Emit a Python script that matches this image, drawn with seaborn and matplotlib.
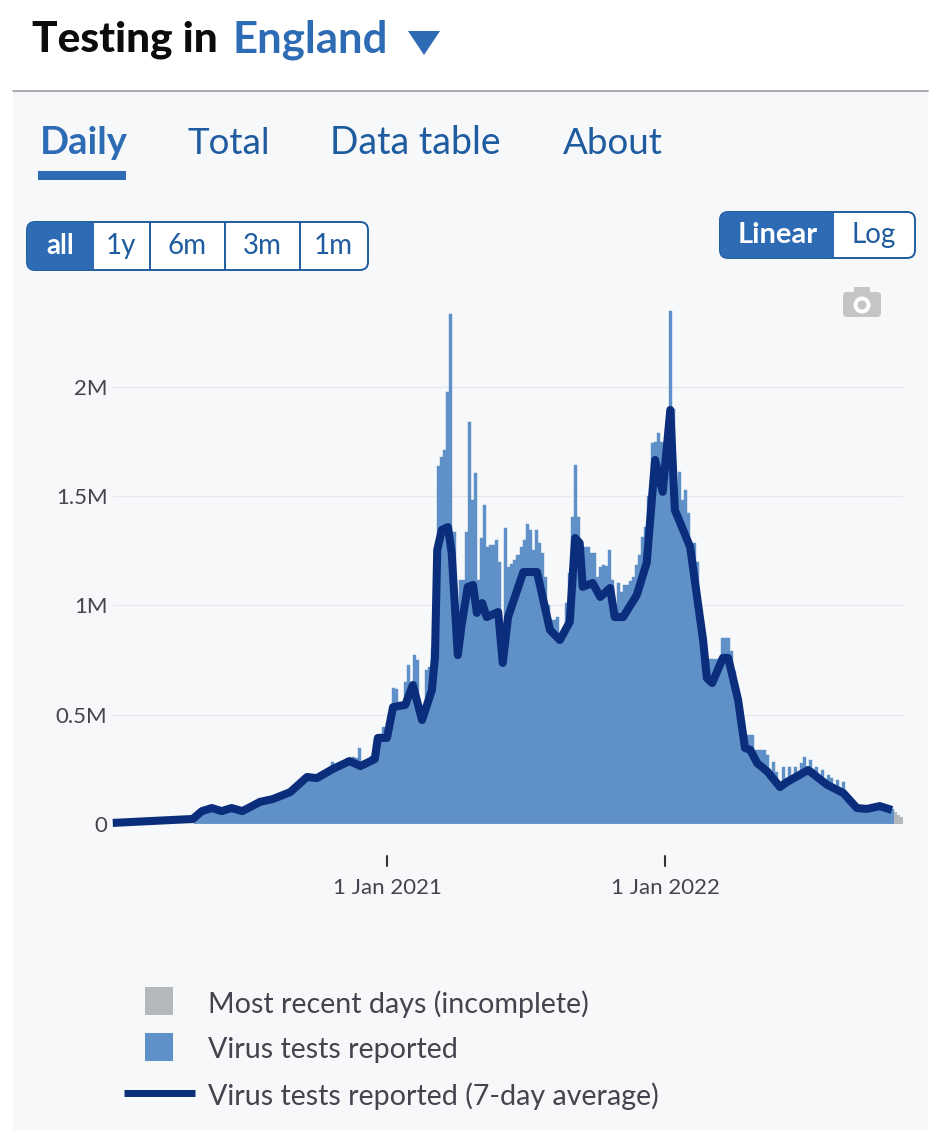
"""Testing in England dashboard card, daily virus tests chart."""
import matplotlib
matplotlib.use("Agg")
import matplotlib.pyplot as plt
import numpy as np
import seaborn as sns
from matplotlib.patches import Circle, FancyBboxPatch, Polygon, Rectangle

W, H = 942, 1130

# daily bars, thousands of tests, one bar every 4 days from day -252 (days since 1 Jan 2021)
BAR_START = -252
BAR_STEP = 4
reported_values = [
    30, 45, 58, 60, 62, 70, 70, 62, 62, 60,
    65, 70, 72, 68, 63, 60, 60, 68, 78, 85,
    92, 98, 102, 107, 112, 115, 118, 126, 132, 140,
    148, 150, 150, 165, 180, 195, 205, 213, 212, 212,
    212, 220, 228, 235, 245, 284, 262, 265, 280, 270,
    300, 290, 305, 300, 348, 270, 275, 290, 310, 300,
    400, 410, 444, 420, 480, 622, 620, 560, 540, 650,
    728, 640, 773, 750, 520, 480, 705, 720, 800, 1000,
    1640, 1680, 1712, 1977, 2334, 1336, 1000, 1117, 1117, 1336,
    1840, 1483, 1606, 1117, 1309, 1460, 1268, 1275, 1277, 1300,
    1200, 740, 1355, 1176, 1190, 1208, 1230, 1268, 1300, 1373,
    1346, 1254, 1346, 1286, 1240, 1130, 1000, 934, 934, 947,
    874, 880, 1011, 1150, 1405, 1643, 1405, 1277, 1268, 1268,
    1240, 1240, 1130, 1176, 1185, 1180, 1254, 1117, 993, 1103,
    1062, 1094, 1094, 1110, 1130, 1185, 1230, 1314, 1359, 1500,
    1744, 1750, 1790, 1748, 1680, 1700, 2348, 1900, 1500, 1611,
    1483, 1529, 1423, 1286, 1286, 1200, 934, 800, 700, 755,
    755, 755, 755, 851, 851, 851, 790, 700, 620, 540,
    440, 407, 407, 407, 339, 339, 339, 339, 316, 240,
    284, 238, 175, 261, 200, 261, 215, 261, 225, 279,
    307, 260, 293, 250, 261, 215, 247, 200, 224, 210,
    165, 201, 155, 192, 135, 115, 95, 78, 70, 66,
    66, 70, 73, 78, 80, 82, 80, 78, 74, 68,
]
recent_values = [55, 41, 32]

# 7-day average
avg_days = [
    -360, -255, -243, -230, -217, -204, -190, -177, -167, -150, -127, -105, -92, -71, -49,
    -35, -16, -12, 0, 8, 24, 34, 46, 59, 63, 66, 72, 80, 85, 93, 98, 106, 113, 118, 125,
    131, 146, 152, 159, 179, 197, 214, 227, 240, 247, 253, 257, 270, 280, 293, 299, 310,
    328, 341, 352, 362, 372, 378, 398, 415, 420, 427, 441, 448, 461, 470, 477, 486, 500,
    516, 525, 553, 578, 599, 617, 630, 647, 663,
]
avg_values = [
    5, 23, 59, 73, 59, 73, 59, 82, 101, 114, 146, 215, 210, 252, 288,
    265, 297, 394, 394, 535, 545, 636, 476, 613, 764, 1254, 1346, 1359, 1240, 773, 911, 1085, 1094, 966, 1011,
    947, 970, 737, 947, 1153, 1153, 888, 842, 925, 1309, 1286, 1085, 1103, 1039, 1080, 947, 947,
    1048, 1195, 1666, 1520, 1895, 1437, 1268, 842, 668, 645, 760, 760, 568, 348, 339, 279, 238,
    169, 192, 247, 179, 142, 73, 69, 82, 64,
]

ytick_values = [0, 500, 1000, 1500, 2000]
ytick_labels = ["0", "0.5M", "1M", "1.5M", "2M"]
xtick_days = [0, 365]
xtick_labels = ["1 Jan 2021", "1 Jan 2022"]
tab_names = ["Daily", "Total", "Data table", "About"]
range_names = ["all", "1y", "6m", "3m", "1m"]
legend_names = ["Most recent days (incomplete)", "Virus tests reported", "Virus tests reported (7-day average)"]

BAR_BLUE = "#6090c8"
LINE_NAVY = "#0b2e7c"
UI_BLUE = "#2e6bb5"
TAB_BLUE = "#1f5c9f"
GREY_TEXT = "#44444f"

sns.set_theme(style="white")
plt.rcParams["font.family"] = ["Lato", "DejaVu Sans"]

fig = plt.figure(figsize=(W / 100, H / 100), dpi=100, facecolor="white")

# page furniture lives on a pixel-coordinate layer behind the chart
ui = fig.add_axes([0, 0, 1, 1], zorder=0)
ui.set_xlim(0, W)
ui.set_ylim(H, 0)
ui.axis("off")


def rounded(x0, y0, x1, y1, face, edge="none", lw=0, r=8):
    ui.add_patch(FancyBboxPatch((x0 + r, y0 + r), x1 - x0 - 2 * r, y1 - y0 - 2 * r,
                                boxstyle=f"round,pad={r},rounding_size={r}",
                                facecolor=face, edgecolor=edge, linewidth=lw))


# panel
ui.add_patch(Rectangle((13, 91), 915, H - 91, facecolor="#f7f8fa", edgecolor="none"))
ui.plot([13, 928], [91, 91], color="#9a9ea3", lw=1.2)

# heading
ui.text(32, 40, "Testing in", fontsize=30.5, fontweight="black", color="#0b0c0c", va="center")
ui.text(232, 40, "England", fontsize=31.5, fontweight="bold", color=UI_BLUE, va="center")
ui.add_patch(Polygon([(408, 31), (440, 31), (424, 55)], facecolor=UI_BLUE, edgecolor="none"))

# tabs
for name, x, size in zip(tab_names, [40, 187, 330, 563], [27.5, 26.5, 27, 26.5]):
    bold = name == "Daily"
    ui.text(x, 143, name, fontsize=size, color=UI_BLUE if bold else TAB_BLUE,
            fontweight="bold" if bold else "normal", va="center")
ui.add_patch(Rectangle((38, 171), 88, 9, facecolor=UI_BLUE, edgecolor="none"))

# range buttons
rounded(27, 222, 368, 270, "white", TAB_BLUE, 1.4)
rounded(27, 222, 93, 270, UI_BLUE)
ui.add_patch(Rectangle((80, 223), 14, 46, facecolor=UI_BLUE, edgecolor="none"))
for x in [150, 225, 300]:
    ui.plot([x, x], [223, 269], color=TAB_BLUE, lw=1.4)
for name, x in zip(range_names, [60, 121, 187, 262, 333]):
    ui.text(x, 246, name, fontsize=20, ha="center", va="center",
            color="white" if name == "all" else TAB_BLUE,
            fontweight="bold" if name == "all" else "normal")

# scale buttons
rounded(720, 212, 915, 258, "white", TAB_BLUE, 1.4)
rounded(720, 212, 834, 258, UI_BLUE)
ui.add_patch(Rectangle((820, 213), 14, 44, facecolor=UI_BLUE, edgecolor="none"))
ui.text(778, 235, "Linear", fontsize=21, fontweight="bold", color="white", ha="center", va="center")
ui.text(874, 235, "Log", fontsize=20, color=TAB_BLUE, ha="center", va="center")

# camera icon
rounded(843, 292, 881, 317, "#c4c5c7", r=4)
ui.add_patch(Rectangle((854, 287), 16, 7, facecolor="#c4c5c7", edgecolor="none"))
ui.add_patch(Circle((862, 305), 8.5, facecolor="white", edgecolor="none"))
ui.add_patch(Circle((862, 305), 4.5, facecolor="#c4c5c7", edgecolor="none"))

# legend
ui.add_patch(Rectangle((145, 987), 28, 28, facecolor="#b4b7bb", edgecolor="none"))
ui.add_patch(Rectangle((145, 1033), 28, 28, facecolor=BAR_BLUE, edgecolor="none"))
ui.plot([124, 195], [1093, 1093], color=LINE_NAVY, lw=5, solid_capstyle="butt")
for name, y in zip(legend_names, [1004, 1050, 1096]):
    ui.text(208, y, name, fontsize=20.6, color=GREY_TEXT, va="center")

# chart
ax = fig.add_axes([113 / W, 1 - 824 / H, (903 - 113) / W, (824 - 300) / H], zorder=1)
ax.patch.set_alpha(0)

bar_days = BAR_START + BAR_STEP * np.arange(len(reported_values) + len(recent_values))
n = len(reported_values)
sns.barplot(x=bar_days[:n], y=np.array(reported_values) * 1000, native_scale=True, width=1,
            color=BAR_BLUE, saturation=1, linewidth=0.3, edgecolor=BAR_BLUE, ax=ax)
sns.barplot(x=bar_days[n:], y=np.array(recent_values) * 1000, native_scale=True, width=1,
            color="#b4b7bb", saturation=1, linewidth=0, ax=ax)
sns.lineplot(x=avg_days, y=np.array(avg_values) * 1000, color=LINE_NAVY, lw=5.8,
             estimator=None, errorbar=None, ax=ax, clip_on=False, zorder=5,
             solid_joinstyle="round", solid_capstyle="butt")

ax.set_xlim(-359.7, 677.5)
ax.set_ylim(0, 2398000)
ax.set_xlabel("")
ax.set_ylabel("")
sns.despine(ax=ax, left=True, right=True, top=True, bottom=True)

ax.set_yticks(np.array(ytick_values) * 1000, ytick_labels)
ax.set_xticks(xtick_days, xtick_labels)
ax.tick_params(axis="y", length=0, pad=4, labelsize=16, labelcolor=GREY_TEXT)
ax.tick_params(axis="x", length=0, pad=39, labelsize=16, labelcolor=GREY_TEXT)
ax.grid(axis="y", color="#e8e9ed", lw=1)
ax.grid(axis="x", visible=False)
ax.set_axisbelow(True)
ax.axhline(0, color="#a9afb8", lw=1, zorder=4)

# date ticks sit well below the baseline
for d in xtick_days:
    ax.plot([d, d], [-0.061, -0.080], transform=ax.get_xaxis_transform(),
            color="#333333", lw=1.5, clip_on=False)

fig.savefig("out.png", dpi=100)
